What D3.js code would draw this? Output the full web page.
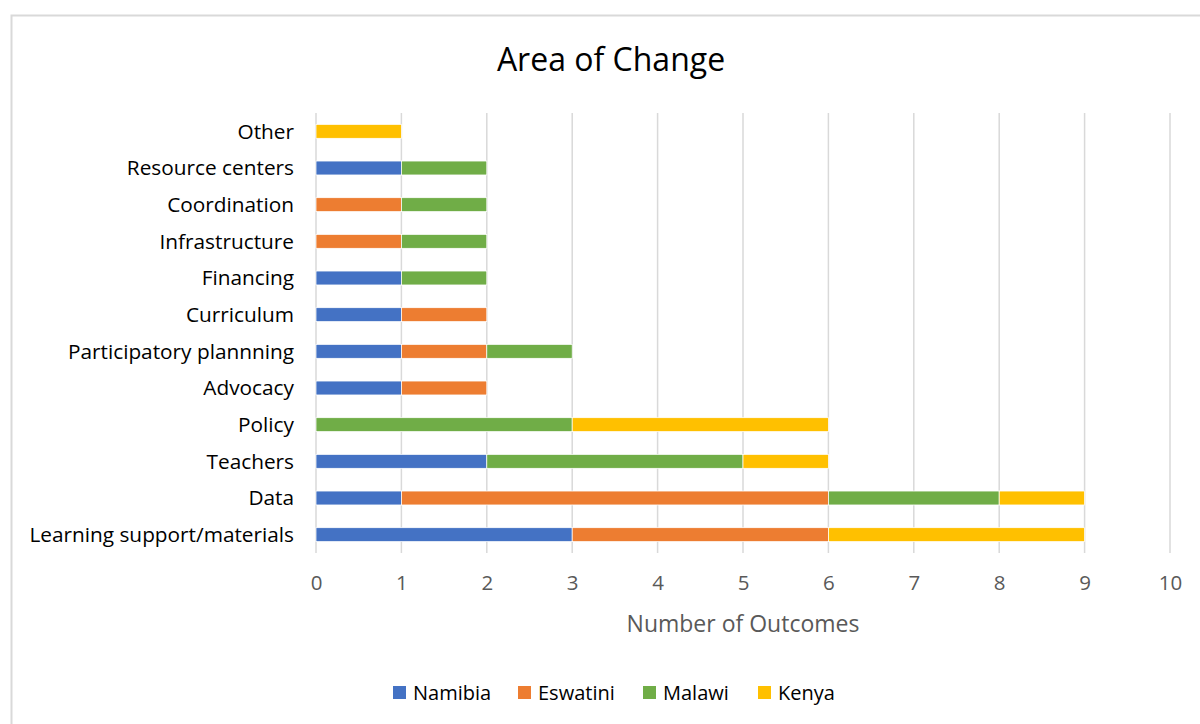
<!DOCTYPE html>
<html>
<head>
<meta charset="UTF-8">
<title>Area of Change</title>
<script src="https://d3js.org/d3.v7.min.js"></script>
<style>
  body { margin: 0; background: #fff; }
  svg { font-family: "Open Sans", "Noto Sans", sans-serif; }
  .title { font-size: 32px; fill: #000; }
  .cat { font-size: 20.8px; fill: #000; }
  .tick text { font-size: 20.5px; fill: #595959; font-family: "Open Sans", "Noto Sans", sans-serif; }
  .axis-title { font-size: 23px; fill: #595959; }
  .legend text { font-size: 20px; fill: #000; }
</style>
</head>
<body>
<svg width="1200" height="724"></svg>
<script>
// categories listed top to bottom
var categories = ["Other", "Resource centers", "Coordination", "Infrastructure ", "Financing ",
  "Curriculum", "Participatory plannning", "Advocacy", "Policy", "Teachers", "Data ",
  "Learning support/materials"];
var countries = ["Namibia", "Eswatini", "Malawi", "Kenya"];
var colors = ["#4472c4", "#ed7d31", "#70ad47", "#ffc000"];

var namibia  = [0, 1, 0, 0, 1, 1, 1, 1, 0, 2, 1, 3];
var eswatini = [0, 0, 1, 1, 0, 1, 1, 1, 0, 0, 5, 3];
var malawi   = [0, 1, 1, 1, 1, 0, 1, 0, 3, 3, 2, 0];
var kenya    = [1, 0, 0, 0, 0, 0, 0, 0, 3, 1, 1, 3];
var xTicks = [0, 1, 2, 3, 4, 5, 6, 7, 8, 9, 10];

var svg = d3.select("svg");

// chart frame
svg.append("rect")
  .attr("x", 11.5).attr("y", 15.5)
  .attr("width", 1200).attr("height", 720)
  .attr("fill", "#fff")
  .attr("stroke", "#d9d9d9")
  .attr("stroke-width", 2);

var plotLeft = 316, plotRight = 1170, plotTop = 113, plotBottom = 553;

var x = d3.scaleLinear().domain([0, 10]).range([plotLeft, plotRight]);
var y = d3.scaleBand().domain(categories).range([plotTop, plotBottom])
  .paddingInner(0.62).paddingOuter(0.31);

// gridlines
svg.append("g")
  .selectAll("line")
  .data(xTicks)
  .join("line")
  .attr("x1", d => x(d)).attr("x2", d => x(d))
  .attr("y1", plotTop).attr("y2", plotBottom)
  .attr("stroke", "#d9d9d9")
  .attr("stroke-width", 1.5);

// stacked bars
var rows = categories.map((c, i) => ({
  cat: c, Namibia: namibia[i], Eswatini: eswatini[i], Malawi: malawi[i], Kenya: kenya[i]
}));
var series = d3.stack().keys(countries)(rows);

svg.append("g")
  .selectAll("g")
  .data(series)
  .join("g")
  .attr("fill", (d, i) => colors[i])
  .selectAll("rect")
  .data(d => d.filter(s => s[1] - s[0] > 0))
  .join("rect")
  .attr("x", d => x(d[0]))
  .attr("width", d => x(d[1]) - x(d[0]))
  .attr("y", d => y(d.data.cat))
  .attr("height", y.bandwidth())
  .attr("stroke", "#fff")
  .attr("stroke-width", 0.75);

// category labels
svg.append("g")
  .selectAll("text")
  .data(categories)
  .join("text")
  .attr("class", "cat")
  .attr("x", 294)
  .attr("y", d => y(d) + y.bandwidth() / 2)
  .attr("dy", "0.35em")
  .attr("text-anchor", "end")
  .text(d => d);

// x axis
var xAxis = d3.axisBottom(x).tickValues(xTicks).tickSize(0).tickPadding(22);
var ax = svg.append("g")
  .attr("transform", "translate(0," + plotBottom + ")")
  .call(xAxis);
ax.select(".domain").remove();

svg.append("text")
  .attr("class", "axis-title")
  .attr("x", (plotLeft + plotRight) / 2)
  .attr("y", 632)
  .attr("text-anchor", "middle")
  .text("Number of Outcomes");

svg.append("text")
  .attr("class", "title")
  .attr("x", 611)
  .attr("y", 71)
  .attr("text-anchor", "middle")
  .text("Area of Change");

// legend
var legendX = [393, 518, 643, 758];
var lg = svg.append("g").attr("class", "legend")
  .selectAll("g")
  .data(countries)
  .join("g")
  .attr("transform", (d, i) => "translate(" + legendX[i] + ",686)");
lg.append("rect")
  .attr("width", 13).attr("height", 13)
  .attr("fill", (d, i) => colors[i]);
lg.append("text")
  .attr("x", 20).attr("y", 7)
  .attr("dy", "0.35em")
  .text(d => d);
</script>
</body>
</html>
